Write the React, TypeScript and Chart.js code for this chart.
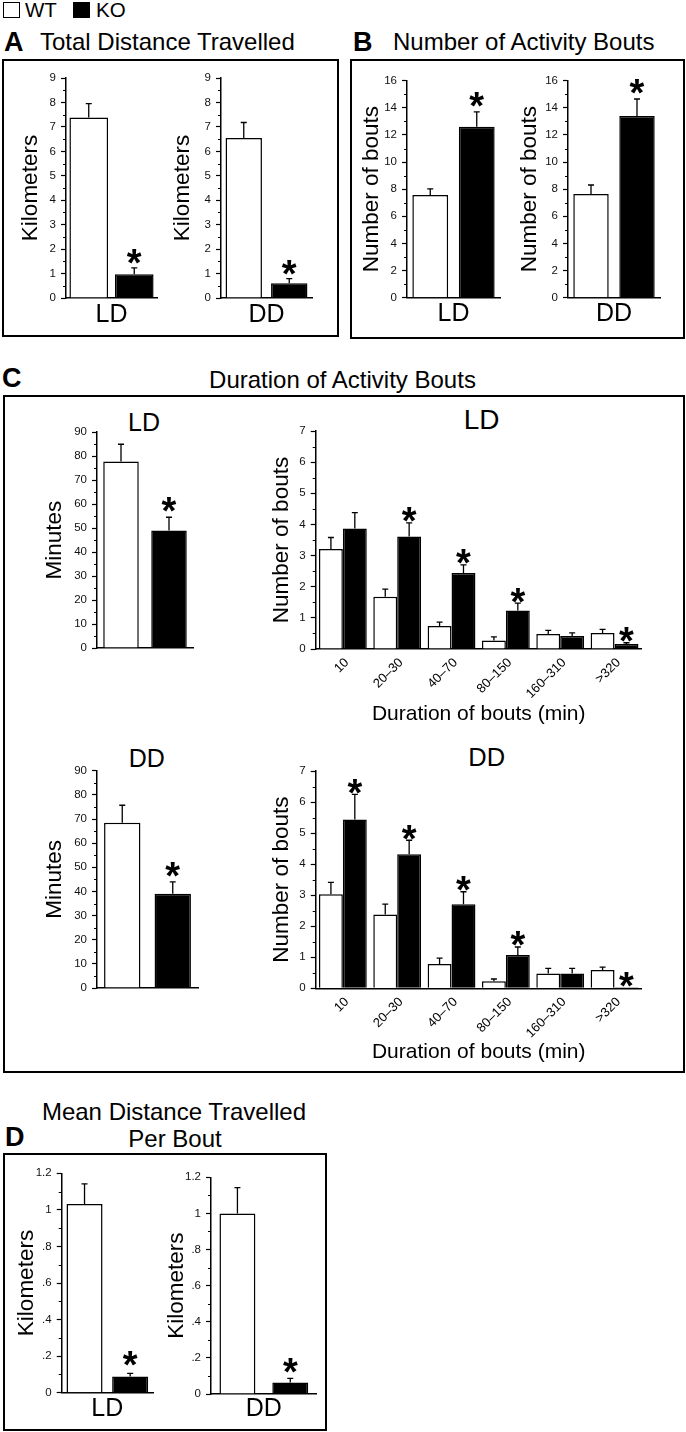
import React, { useEffect, useRef } from 'react';
import { Chart, registerables } from 'chart.js';

Chart.register(...registerables);

const FONT = '"Liberation Sans", Arial, Helvetica, sans-serif';
Chart.defaults.font.family = FONT;
Chart.defaults.color = '#000';

// ---------------- DATA ----------------
const GROUPS = ['WT', 'KO'];
const DURATION_BINS = ['10', '20–30', '40–70', '80–150', '160–310', '>320'];

// A  Total distance travelled (km): [WT, KO]
const distLD = [7.38, 0.97];
const distLDErr = [0.57, 0.26];
const distDD = [6.55, 0.6];
const distDDErr = [0.63, 0.19];

// B  Number of activity bouts: [WT, KO]
const boutsLD = [7.57, 12.6];
const boutsLDErr = [0.45, 1.1];
const boutsDD = [7.65, 13.4];
const boutsDDErr = [0.66, 1.25];

// C  Mean bout duration (minutes): [WT, KO]
const minutesLD = [77.7, 49.0];
const minutesLDErr = [7.2, 5.5];
const minutesDD = [68.5, 39.1];
const minutesDDErr = [7.2, 4.9];

// C  Number of bouts per duration bin
const binsLD_WT = [3.21, 1.68, 0.74, 0.27, 0.48, 0.51];
const binsLD_WTErr = [0.37, 0.24, 0.12, 0.12, 0.12, 0.12];
const binsLD_KO = [3.87, 3.61, 2.44, 1.24, 0.42, 0.16];
const binsLD_KOErr = [0.51, 0.44, 0.26, 0.23, 0.1, 0.04];
const binsLD_Sig = [false, true, true, true, false, true];

const binsDD_WT = [3.03, 2.38, 0.78, 0.23, 0.48, 0.59];
const binsDD_WTErr = [0.38, 0.33, 0.19, 0.07, 0.16, 0.09];
const binsDD_KO = [5.44, 4.32, 2.71, 1.07, 0.48, 0.03];
const binsDD_KOErr = [0.81, 0.45, 0.4, 0.26, 0.16, 0];
const binsDD_Sig = [true, true, true, true, false, true];

// D  Mean distance travelled per bout (km): [WT, KO]
const perBoutLD = [1.032, 0.088];
const perBoutLDErr = [0.11, 0.018];
const perBoutDD = [1.0, 0.063];
const perBoutDDErr = [0.143, 0.024];

// ---------------- CHART BUILDING ----------------
type Geo = {
  cx: number; cy: number; cw: number; ch: number;
  left: number; top: number; right: number; bottom: number;
  yTitleX: number;
};

type Spec = {
  id: string;
  labels: string[];
  wt: number[]; ko: number[]; wtErr: number[]; koErr: number[]; sig: boolean[];
  yMax: number; yStep: number; yTitle: string; fmt?: (v: number) => string;
  geo: Geo;
  barPct: number; catPct: number;
  showX: boolean; xTickSize: number; xTickPad: number; xRotate: number; xLabelOffset: number;
  xTitle?: string; xTitlePad?: number;
  starGap: number;
};

const Y_TITLE_SIZE = 22.5;
const STAR_SIZE = 38;

function decorPlugin(s: Spec) {
  return {
    id: 'decor_' + s.id,
    afterDatasetsDraw(chart: any) {
      const ctx = chart.ctx;
      const ys = chart.scales.y;
      ctx.save();
      ctx.strokeStyle = '#000';
      ctx.lineWidth = 1.3;
      [s.wt, s.ko].forEach((vals, di) => {
        const errs = di === 0 ? s.wtErr : s.koErr;
        const meta = chart.getDatasetMeta(di);
        vals.forEach((v, i) => {
          const e = errs[i];
          if (!e) return;
          const x = meta.data[i].x;
          const y0 = ys.getPixelForValue(v);
          const y1 = ys.getPixelForValue(v + e);
          ctx.beginPath();
          ctx.moveTo(x, y0);
          ctx.lineTo(x, y1);
          ctx.moveTo(x - 3, y1);
          ctx.lineTo(x + 3, y1);
          ctx.stroke();
        });
      });
      const metaKO = chart.getDatasetMeta(1);
      ctx.fillStyle = '#000';
      ctx.font = `bold ${STAR_SIZE}px ${FONT}`;
      ctx.textAlign = 'center';
      ctx.textBaseline = 'alphabetic';
      s.sig.forEach((on, i) => {
        if (!on) return;
        const top = ys.getPixelForValue(s.ko[i] + (s.koErr[i] || 0));
        const c = top - s.starGap;
        ctx.fillText('*', metaKO.data[i].x, c + 0.56 * STAR_SIZE);
      });
      ctx.restore();
    },
    afterDraw(chart: any) {
      const ctx = chart.ctx;
      const ys = chart.scales.y;
      const ticks = ys.ticks;
      const x = chart.chartArea.left;
      ctx.save();
      ctx.strokeStyle = '#000';
      ctx.lineWidth = 1;
      for (let k = 0; k < ticks.length - 1; k++) {
        const mid = (ticks[k].value + ticks[k + 1].value) / 2;
        const py = Math.round(ys.getPixelForValue(mid)) + 0.5;
        ctx.beginPath();
        ctx.moveTo(x - 3, py);
        ctx.lineTo(x, py);
        ctx.stroke();
      }
      ctx.restore();
    },
  };
}

function buildConfig(s: Spec): any {
  const g = s.geo;
  const titleLH = Y_TITLE_SIZE * 1.2;
  return {
    type: 'bar',
    data: {
      labels: s.labels,
      datasets: [
        {
          label: GROUPS[0], data: s.wt, backgroundColor: '#ffffff', borderColor: '#000000',
          borderWidth: 1.5, categoryPercentage: s.catPct, barPercentage: s.barPct,
        },
        {
          label: GROUPS[1], data: s.ko, backgroundColor: '#000000', borderColor: '#000000',
          borderWidth: 1.5, categoryPercentage: s.catPct, barPercentage: s.barPct,
        },
      ],
    },
    options: {
      responsive: false,
      maintainAspectRatio: false,
      animation: false,
      devicePixelRatio: 1,
      events: [],
      layout: { padding: { left: 0, top: g.top - g.cy, right: g.cx + g.cw - g.right, bottom: 0 } },
      plugins: { legend: { display: false }, tooltip: { enabled: false } },
      scales: {
        x: {
          type: 'category',
          offset: true,
          grid: { display: false, drawTicks: false },
          border: { display: true, color: '#000', width: 1.5 },
          ticks: {
            display: s.showX,
            autoSkip: false,
            color: '#000',
            padding: s.xTickPad,
            maxRotation: s.xRotate,
            minRotation: s.xRotate,
            labelOffset: s.xLabelOffset,
            font: { size: s.xTickSize, family: FONT },
          },
          title: s.xTitle
            ? {
                display: true, text: s.xTitle, color: '#000',
                font: { size: 21, family: FONT },
                padding: { top: 0, bottom: s.xTitlePad || 0 },
              }
            : { display: false },
          afterFit: (sc: any) => { sc.height = g.cy + g.ch - g.bottom; },
        },
        y: {
          type: 'linear',
          min: 0,
          max: s.yMax,
          grid: {
            display: true, drawOnChartArea: false, drawTicks: true,
            tickLength: 5, tickColor: '#000', tickWidth: 1.2,
          },
          border: { display: true, color: '#000', width: 1.5 },
          ticks: {
            stepSize: s.yStep,
            padding: 5,
            color: '#111',
            font: { size: 11.5, family: FONT },
            callback: (v: number) => (s.fmt ? s.fmt(v) : String(Math.round(v * 100) / 100)),
          },
          title: {
            display: true, text: s.yTitle, color: '#000',
            font: { size: Y_TITLE_SIZE, family: FONT },
            padding: { top: g.yTitleX - g.cx - titleLH / 2, bottom: 0 },
          },
          afterFit: (sc: any) => { sc.width = g.left - g.cx; },
        },
      },
    },
    plugins: [decorPlugin(s)],
  };
}

function BarChart({ spec }: { spec: Spec }) {
  const ref = useRef<HTMLCanvasElement | null>(null);
  useEffect(() => {
    if (!ref.current) return;
    const chart = new Chart(ref.current, buildConfig(spec));
    return () => chart.destroy();
  }, [spec]);
  const g = spec.geo;
  return (
    <canvas
      ref={ref}
      width={g.cw}
      height={g.ch}
      style={{ position: 'absolute', left: g.cx, top: g.cy, width: g.cw, height: g.ch, display: 'block' }}
    />
  );
}

const fmtDecimal = (v: number) => {
  const r = Math.round(v * 10) / 10;
  if (r === 0) return '0';
  return String(r).replace(/^0\./, '.');
};

function pairSpec(
  id: string, cond: string, vals: number[], errs: number[], yMax: number, yStep: number,
  yTitle: string, geo: Geo, barPct: number, xTickPad: number, showX: boolean, starGap: number,
  fmt?: (v: number) => string,
): Spec {
  return {
    id, labels: [cond],
    wt: [vals[0]], ko: [vals[1]], wtErr: [errs[0]], koErr: [errs[1]], sig: [true],
    yMax, yStep, yTitle, fmt, geo, barPct, catPct: 1,
    showX, xTickSize: 25, xTickPad, xRotate: 0, xLabelOffset: 0, starGap,
  };
}

// ---------------- LAYOUT ----------------
const SPECS: Spec[] = [
  pairSpec('aLD', 'LD', distLD, distLDErr, 9, 1, 'Kilometers',
    { cx: 6, cy: 62, cw: 160, ch: 272, left: 66, top: 78, right: 157, bottom: 298, yTitleX: 31 },
    0.85, 2.5, true, 13),
  pairSpec('aDD', 'DD', distDD, distDDErr, 9, 1, 'Kilometers',
    { cx: 168, cy: 62, cw: 160, ch: 272, left: 221, top: 78, right: 312, bottom: 298, yTitleX: 183 },
    0.8, 2.5, true, 13),
  pairSpec('bLD', 'LD', boutsLD, boutsLDErr, 16, 2, 'Number of bouts',
    { cx: 354, cy: 63, cw: 152, ch: 272, left: 407, top: 80.7, right: 500, bottom: 297.7, yTitleX: 372 },
    0.77, 1.9, true, 14.5),
  pairSpec('bDD', 'DD', boutsDD, boutsDDErr, 16, 2, 'Number of bouts',
    { cx: 510, cy: 63, cw: 170, ch: 272, left: 568, top: 80.7, right: 660, bottom: 297.7, yTitleX: 530 },
    0.77, 1.9, true, 14.5),
  pairSpec('cLD', '', minutesLD, minutesLDErr, 90, 10, 'Minutes',
    { cx: 6, cy: 400, cw: 200, ch: 260, left: 97, top: 432, right: 193, bottom: 649.3, yTitleX: 55 },
    0.74, 0, false, 14.5),
  pairSpec('cDD', '', minutesDD, minutesDDErr, 90, 10, 'Minutes',
    { cx: 6, cy: 740, cw: 200, ch: 260, left: 97, top: 770.7, right: 198, bottom: 988.3, yTitleX: 55 },
    0.72, 0, false, 14.5),
  {
    id: 'cBinsLD', labels: DURATION_BINS,
    wt: binsLD_WT, ko: binsLD_KO, wtErr: binsLD_WTErr, koErr: binsLD_KOErr, sig: binsLD_Sig,
    yMax: 7, yStep: 1, yTitle: 'Number of bouts',
    geo: { cx: 215, cy: 400, cw: 465, ch: 330, left: 315.7, top: 431, right: 641.7, bottom: 649, yTitleX: 281.7 },
    barPct: 1, catPct: 0.88, showX: true, xTickSize: 13, xTickPad: 6, xRotate: 45, xLabelOffset: 4,
    xTitle: 'Duration of bouts (min)', xTitlePad: 3, starGap: 10,
  },
  {
    id: 'cBinsDD', labels: DURATION_BINS,
    wt: binsDD_WT, ko: binsDD_KO, wtErr: binsDD_WTErr, koErr: binsDD_KOErr, sig: binsDD_Sig,
    yMax: 7, yStep: 1, yTitle: 'Number of bouts',
    geo: { cx: 215, cy: 740, cw: 465, ch: 330, left: 315.7, top: 771, right: 641.7, bottom: 988.3, yTitleX: 281.7 },
    barPct: 1, catPct: 0.88, showX: true, xTickSize: 13, xTickPad: 6, xRotate: 45, xLabelOffset: 4,
    xTitle: 'Duration of bouts (min)', xTitlePad: 4.7, starGap: 10,
  },
  pairSpec('dLD', 'LD', perBoutLD, perBoutLDErr, 1.2, 0.2, 'Kilometers',
    { cx: 6, cy: 1156, cw: 150, ch: 272, left: 61.7, top: 1173.3, right: 153, bottom: 1392.7, yTitleX: 26.7 },
    0.79, 1.6, true, 17, fmtDecimal),
  pairSpec('dDD', 'DD', perBoutDD, perBoutDDErr, 1.2, 0.2, 'Kilometers',
    { cx: 158, cy: 1156, cw: 166, ch: 272, left: 211, top: 1177.3, right: 316.7, bottom: 1394, yTitleX: 176.7 },
    0.68, 0.3, true, 14.5, fmtDecimal),
];

// ---------------- TEXT & FRAMES ----------------
function T({ x, y, size, bold, align, children }: {
  x: number; y: number; size: number; bold?: boolean; align?: 'left' | 'center'; children: React.ReactNode;
}) {
  const top = y - 0.8465 * size;
  const style: React.CSSProperties = {
    position: 'absolute', top, fontFamily: FONT, fontSize: size, lineHeight: 1,
    fontWeight: bold ? 700 : 400, whiteSpace: 'nowrap', color: '#000',
  };
  if (align === 'center') {
    style.left = x - 300; style.width = 600; style.textAlign = 'center';
  } else {
    style.left = x;
  }
  return <div style={style}>{children}</div>;
}

function Frame({ x, y, w, h }: { x: number; y: number; w: number; h: number }) {
  return (
    <div style={{
      position: 'absolute', left: x, top: y, width: w, height: h,
      border: '2px solid #000', boxSizing: 'border-box',
    }} />
  );
}

export default function App() {
  return (
    <div style={{ position: 'absolute', left: 0, top: 0, width: 686, height: 1432, background: '#fff', overflow: 'hidden' }}>
      {/* legend */}
      <div style={{ position: 'absolute', left: 3, top: 2, width: 17, height: 16, border: '1.5px solid #000', boxSizing: 'border-box', background: '#fff' }} />
      <T x={25} y={17} size={20.5}>{GROUPS[0]}</T>
      <div style={{ position: 'absolute', left: 73, top: 2, width: 17, height: 16, background: '#000' }} />
      <T x={96} y={17} size={20.5}>{GROUPS[1]}</T>

      {/* panel headers */}
      <T x={4} y={52} size={27} bold>A</T>
      <T x={40} y={50} size={24}>Total Distance Travelled</T>
      <T x={353} y={52} size={27} bold>B</T>
      <T x={393} y={50} size={24}>Number of Activity Bouts</T>
      <T x={2} y={388} size={27} bold>C</T>
      <T x={342.5} y={388} size={24} align="center">Duration of Activity Bouts</T>
      <T x={5} y={1147} size={27} bold>D</T>
      <T x={174} y={1120} size={24} align="center">Mean Distance Travelled</T>
      <T x={175} y={1147} size={24} align="center">Per Bout</T>

      <Frame x={2} y={59} w={337} h={278} />
      <Frame x={350} y={59} w={335} h={280} />
      <Frame x={3} y={395} w={682} h={678} />
      <Frame x={3} y={1153} w={324} h={278} />

      {/* sub-panel titles in C */}
      <T x={144} y={430.7} size={25} align="center">LD</T>
      <T x={481.7} y={429.3} size={28} align="center">LD</T>
      <T x={146.7} y={766.7} size={25} align="center">DD</T>
      <T x={486.7} y={766.7} size={25.5} align="center">DD</T>

      {SPECS.map((s) => <BarChart key={s.id} spec={s} />)}
    </div>
  );
}
